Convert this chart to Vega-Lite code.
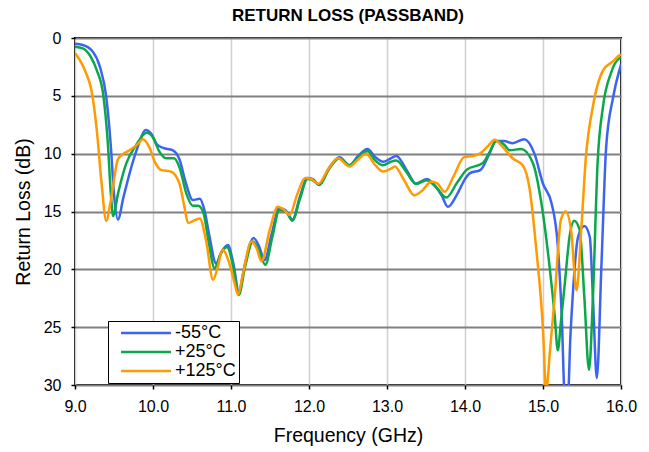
{
  "$schema": "https://vega.github.io/schema/vega-lite/v6.json",
  "autosize": "none",
  "width": 546,
  "height": 347,
  "padding": {"left": 75, "top": 38, "right": 28, "bottom": 67},
  "background": "white",
  "config": {
    "font": "Liberation Sans",
    "view": {"stroke": "black", "strokeWidth": 2},
    "axis": {"domain": false, "labelFont": "Liberation Sans", "titleFont": "Liberation Sans", "labelFontSize": 16, "titleFontSize": 19.5, "titleFontWeight": "normal", "labelColor": "black", "titleColor": "black", "tickColor": "black", "tickSize": 4, "tickWidth": 1.5, "labelFlush": false, "labelOverlap": false},
    "axisX": {"gridColor": "#d0d0d0", "gridWidth": 1.5},
    "axisY": {"gridColor": "#808080", "gridWidth": 2}
  },
  "title": {"text": "RETURN LOSS (PASSBAND)", "fontSize": 17, "fontWeight": "bold", "font": "Liberation Sans", "color": "black", "offset": 5, "anchor": "middle"},
  "datasets": {
    "s": [
      {"f": 9.0, "rl": 0.5, "t": "-55°C"},
      {"f": 9.1, "rl": 0.6, "t": "-55°C"},
      {"f": 9.23, "rl": 1.2, "t": "-55°C"},
      {"f": 9.32, "rl": 2.5, "t": "-55°C"},
      {"f": 9.40, "rl": 5.07, "t": "-55°C"},
      {"f": 9.46, "rl": 9.4, "t": "-55°C"},
      {"f": 9.50, "rl": 13.5, "t": "-55°C"},
      {"f": 9.55, "rl": 15.7, "t": "-55°C"},
      {"f": 9.62, "rl": 13.8, "t": "-55°C"},
      {"f": 9.70, "rl": 11.7, "t": "-55°C"},
      {"f": 9.80, "rl": 9.5, "t": "-55°C"},
      {"f": 9.91, "rl": 7.95, "t": "-55°C"},
      {"f": 9.98, "rl": 8.3, "t": "-55°C"},
      {"f": 10.05, "rl": 9.2, "t": "-55°C"},
      {"f": 10.13, "rl": 9.5, "t": "-55°C"},
      {"f": 10.25, "rl": 9.7, "t": "-55°C"},
      {"f": 10.34, "rl": 10.5, "t": "-55°C"},
      {"f": 10.42, "rl": 12.5, "t": "-55°C"},
      {"f": 10.51, "rl": 14.0, "t": "-55°C"},
      {"f": 10.60, "rl": 13.9, "t": "-55°C"},
      {"f": 10.66, "rl": 14.9, "t": "-55°C"},
      {"f": 10.72, "rl": 17.0, "t": "-55°C"},
      {"f": 10.81, "rl": 19.5, "t": "-55°C"},
      {"f": 10.88, "rl": 18.5, "t": "-55°C"},
      {"f": 10.96, "rl": 17.9, "t": "-55°C"},
      {"f": 11.03, "rl": 19.5, "t": "-55°C"},
      {"f": 11.10, "rl": 21.9, "t": "-55°C"},
      {"f": 11.18, "rl": 19.5, "t": "-55°C"},
      {"f": 11.29, "rl": 17.3, "t": "-55°C"},
      {"f": 11.36, "rl": 18.0, "t": "-55°C"},
      {"f": 11.43, "rl": 19.2, "t": "-55°C"},
      {"f": 11.52, "rl": 17.0, "t": "-55°C"},
      {"f": 11.62, "rl": 14.7, "t": "-55°C"},
      {"f": 11.70, "rl": 14.9, "t": "-55°C"},
      {"f": 11.79, "rl": 15.7, "t": "-55°C"},
      {"f": 11.88, "rl": 13.8, "t": "-55°C"},
      {"f": 11.98, "rl": 12.1, "t": "-55°C"},
      {"f": 12.05, "rl": 12.2, "t": "-55°C"},
      {"f": 12.13, "rl": 12.7, "t": "-55°C"},
      {"f": 12.26, "rl": 11.2, "t": "-55°C"},
      {"f": 12.39, "rl": 10.3, "t": "-55°C"},
      {"f": 12.52, "rl": 11.0, "t": "-55°C"},
      {"f": 12.63, "rl": 10.2, "t": "-55°C"},
      {"f": 12.75, "rl": 9.6, "t": "-55°C"},
      {"f": 12.85, "rl": 10.3, "t": "-55°C"},
      {"f": 12.95, "rl": 10.7, "t": "-55°C"},
      {"f": 13.05, "rl": 10.4, "t": "-55°C"},
      {"f": 13.12, "rl": 10.2, "t": "-55°C"},
      {"f": 13.25, "rl": 11.4, "t": "-55°C"},
      {"f": 13.37, "rl": 12.6, "t": "-55°C"},
      {"f": 13.51, "rl": 12.2, "t": "-55°C"},
      {"f": 13.63, "rl": 12.9, "t": "-55°C"},
      {"f": 13.70, "rl": 13.6, "t": "-55°C"},
      {"f": 13.78, "rl": 14.6, "t": "-55°C"},
      {"f": 13.90, "rl": 13.5, "t": "-55°C"},
      {"f": 14.0, "rl": 12.2, "t": "-55°C"},
      {"f": 14.06, "rl": 11.7, "t": "-55°C"},
      {"f": 14.2, "rl": 11.4, "t": "-55°C"},
      {"f": 14.30, "rl": 10.2, "t": "-55°C"},
      {"f": 14.40, "rl": 8.9, "t": "-55°C"},
      {"f": 14.50, "rl": 8.9, "t": "-55°C"},
      {"f": 14.61, "rl": 9.1, "t": "-55°C"},
      {"f": 14.76, "rl": 8.75, "t": "-55°C"},
      {"f": 14.89, "rl": 10.0, "t": "-55°C"},
      {"f": 15.0, "rl": 12.6, "t": "-55°C"},
      {"f": 15.11, "rl": 14.3, "t": "-55°C"},
      {"f": 15.19, "rl": 18.0, "t": "-55°C"},
      {"f": 15.24, "rl": 24.0, "t": "-55°C"},
      {"f": 15.28, "rl": 31.0, "t": "-55°C"},
      {"f": 15.32, "rl": 31.0, "t": "-55°C"},
      {"f": 15.35, "rl": 26.0, "t": "-55°C"},
      {"f": 15.38, "rl": 22.4, "t": "-55°C"},
      {"f": 15.45, "rl": 17.2, "t": "-55°C"},
      {"f": 15.53, "rl": 16.25, "t": "-55°C"},
      {"f": 15.60, "rl": 17.2, "t": "-55°C"},
      {"f": 15.64, "rl": 22.4, "t": "-55°C"},
      {"f": 15.69, "rl": 29.4, "t": "-55°C"},
      {"f": 15.75, "rl": 19.5, "t": "-55°C"},
      {"f": 15.81, "rl": 9.4, "t": "-55°C"},
      {"f": 15.90, "rl": 5.1, "t": "-55°C"},
      {"f": 16.0, "rl": 2.3, "t": "-55°C"},

      {"f": 9.0, "rl": 0.75, "t": "+25°C"},
      {"f": 9.1, "rl": 0.9, "t": "+25°C"},
      {"f": 9.2, "rl": 1.6, "t": "+25°C"},
      {"f": 9.28, "rl": 2.8, "t": "+25°C"},
      {"f": 9.36, "rl": 4.8, "t": "+25°C"},
      {"f": 9.42, "rl": 9.0, "t": "+25°C"},
      {"f": 9.46, "rl": 13.5, "t": "+25°C"},
      {"f": 9.49, "rl": 15.4, "t": "+25°C"},
      {"f": 9.55, "rl": 13.5, "t": "+25°C"},
      {"f": 9.66, "rl": 10.8, "t": "+25°C"},
      {"f": 9.78, "rl": 9.3, "t": "+25°C"},
      {"f": 9.92, "rl": 8.2, "t": "+25°C"},
      {"f": 10.0, "rl": 8.6, "t": "+25°C"},
      {"f": 10.08, "rl": 9.8, "t": "+25°C"},
      {"f": 10.17, "rl": 10.4, "t": "+25°C"},
      {"f": 10.27, "rl": 10.4, "t": "+25°C"},
      {"f": 10.34, "rl": 11.2, "t": "+25°C"},
      {"f": 10.43, "rl": 13.5, "t": "+25°C"},
      {"f": 10.51, "rl": 14.5, "t": "+25°C"},
      {"f": 10.58, "rl": 14.5, "t": "+25°C"},
      {"f": 10.65, "rl": 15.2, "t": "+25°C"},
      {"f": 10.71, "rl": 17.5, "t": "+25°C"},
      {"f": 10.79, "rl": 19.9, "t": "+25°C"},
      {"f": 10.87, "rl": 18.6, "t": "+25°C"},
      {"f": 10.95, "rl": 18.1, "t": "+25°C"},
      {"f": 11.03, "rl": 19.8, "t": "+25°C"},
      {"f": 11.10, "rl": 22.2, "t": "+25°C"},
      {"f": 11.18, "rl": 19.8, "t": "+25°C"},
      {"f": 11.28, "rl": 17.6, "t": "+25°C"},
      {"f": 11.36, "rl": 18.4, "t": "+25°C"},
      {"f": 11.44, "rl": 19.6, "t": "+25°C"},
      {"f": 11.53, "rl": 17.2, "t": "+25°C"},
      {"f": 11.62, "rl": 14.9, "t": "+25°C"},
      {"f": 11.70, "rl": 15.0, "t": "+25°C"},
      {"f": 11.79, "rl": 15.8, "t": "+25°C"},
      {"f": 11.88, "rl": 14.0, "t": "+25°C"},
      {"f": 11.98, "rl": 12.2, "t": "+25°C"},
      {"f": 12.05, "rl": 12.3, "t": "+25°C"},
      {"f": 12.13, "rl": 12.7, "t": "+25°C"},
      {"f": 12.26, "rl": 11.3, "t": "+25°C"},
      {"f": 12.39, "rl": 10.4, "t": "+25°C"},
      {"f": 12.52, "rl": 11.0, "t": "+25°C"},
      {"f": 12.63, "rl": 10.3, "t": "+25°C"},
      {"f": 12.75, "rl": 9.8, "t": "+25°C"},
      {"f": 12.85, "rl": 10.6, "t": "+25°C"},
      {"f": 12.95, "rl": 11.0, "t": "+25°C"},
      {"f": 13.05, "rl": 10.7, "t": "+25°C"},
      {"f": 13.12, "rl": 10.6, "t": "+25°C"},
      {"f": 13.25, "rl": 11.6, "t": "+25°C"},
      {"f": 13.37, "rl": 12.6, "t": "+25°C"},
      {"f": 13.51, "rl": 12.3, "t": "+25°C"},
      {"f": 13.63, "rl": 12.9, "t": "+25°C"},
      {"f": 13.76, "rl": 13.8, "t": "+25°C"},
      {"f": 13.90, "rl": 12.5, "t": "+25°C"},
      {"f": 14.02, "rl": 11.4, "t": "+25°C"},
      {"f": 14.23, "rl": 10.8, "t": "+25°C"},
      {"f": 14.32, "rl": 9.8, "t": "+25°C"},
      {"f": 14.40, "rl": 8.9, "t": "+25°C"},
      {"f": 14.50, "rl": 9.2, "t": "+25°C"},
      {"f": 14.57, "rl": 9.7, "t": "+25°C"},
      {"f": 14.72, "rl": 9.6, "t": "+25°C"},
      {"f": 14.87, "rl": 10.8, "t": "+25°C"},
      {"f": 14.98, "rl": 14.3, "t": "+25°C"},
      {"f": 15.08, "rl": 19.5, "t": "+25°C"},
      {"f": 15.15, "rl": 24.0, "t": "+25°C"},
      {"f": 15.19, "rl": 27.0, "t": "+25°C"},
      {"f": 15.23, "rl": 24.5, "t": "+25°C"},
      {"f": 15.28, "rl": 21.2, "t": "+25°C"},
      {"f": 15.34, "rl": 17.2, "t": "+25°C"},
      {"f": 15.40, "rl": 15.8, "t": "+25°C"},
      {"f": 15.47, "rl": 16.6, "t": "+25°C"},
      {"f": 15.53, "rl": 22.4, "t": "+25°C"},
      {"f": 15.59, "rl": 28.7, "t": "+25°C"},
      {"f": 15.64, "rl": 22.4, "t": "+25°C"},
      {"f": 15.70, "rl": 10.8, "t": "+25°C"},
      {"f": 15.77, "rl": 5.9, "t": "+25°C"},
      {"f": 15.87, "rl": 3.05, "t": "+25°C"},
      {"f": 15.98, "rl": 1.75, "t": "+25°C"},
      {"f": 16.0, "rl": 1.7, "t": "+25°C"},

      {"f": 9.0, "rl": 1.3, "t": "+125°C"},
      {"f": 9.07, "rl": 2.0, "t": "+125°C"},
      {"f": 9.14, "rl": 3.0, "t": "+125°C"},
      {"f": 9.21, "rl": 4.5, "t": "+125°C"},
      {"f": 9.28, "rl": 8.0, "t": "+125°C"},
      {"f": 9.34, "rl": 12.5, "t": "+125°C"},
      {"f": 9.40, "rl": 15.8, "t": "+125°C"},
      {"f": 9.46, "rl": 14.0, "t": "+125°C"},
      {"f": 9.55, "rl": 10.5, "t": "+125°C"},
      {"f": 9.62, "rl": 10.0, "t": "+125°C"},
      {"f": 9.70, "rl": 9.7, "t": "+125°C"},
      {"f": 9.80, "rl": 9.2, "t": "+125°C"},
      {"f": 9.87, "rl": 8.75, "t": "+125°C"},
      {"f": 9.95, "rl": 9.4, "t": "+125°C"},
      {"f": 10.03, "rl": 10.8, "t": "+125°C"},
      {"f": 10.10, "rl": 11.4, "t": "+125°C"},
      {"f": 10.23, "rl": 11.55, "t": "+125°C"},
      {"f": 10.30, "rl": 12.0, "t": "+125°C"},
      {"f": 10.34, "rl": 12.6, "t": "+125°C"},
      {"f": 10.40, "rl": 14.5, "t": "+125°C"},
      {"f": 10.45, "rl": 16.0, "t": "+125°C"},
      {"f": 10.52, "rl": 15.8, "t": "+125°C"},
      {"f": 10.60, "rl": 15.6, "t": "+125°C"},
      {"f": 10.68, "rl": 17.5, "t": "+125°C"},
      {"f": 10.77, "rl": 20.9, "t": "+125°C"},
      {"f": 10.83, "rl": 19.8, "t": "+125°C"},
      {"f": 10.89, "rl": 18.3, "t": "+125°C"},
      {"f": 10.98, "rl": 19.5, "t": "+125°C"},
      {"f": 11.05, "rl": 21.3, "t": "+125°C"},
      {"f": 11.09, "rl": 22.2, "t": "+125°C"},
      {"f": 11.15, "rl": 20.5, "t": "+125°C"},
      {"f": 11.26, "rl": 17.6, "t": "+125°C"},
      {"f": 11.33, "rl": 18.2, "t": "+125°C"},
      {"f": 11.39, "rl": 19.3, "t": "+125°C"},
      {"f": 11.50, "rl": 16.5, "t": "+125°C"},
      {"f": 11.60, "rl": 14.6, "t": "+125°C"},
      {"f": 11.67, "rl": 14.8, "t": "+125°C"},
      {"f": 11.75, "rl": 15.3, "t": "+125°C"},
      {"f": 11.85, "rl": 13.5, "t": "+125°C"},
      {"f": 11.95, "rl": 12.1, "t": "+125°C"},
      {"f": 12.03, "rl": 12.2, "t": "+125°C"},
      {"f": 12.12, "rl": 12.6, "t": "+125°C"},
      {"f": 12.25, "rl": 11.3, "t": "+125°C"},
      {"f": 12.37, "rl": 10.4, "t": "+125°C"},
      {"f": 12.52, "rl": 11.1, "t": "+125°C"},
      {"f": 12.63, "rl": 10.5, "t": "+125°C"},
      {"f": 12.73, "rl": 10.0, "t": "+125°C"},
      {"f": 12.85, "rl": 11.0, "t": "+125°C"},
      {"f": 12.95, "rl": 11.55, "t": "+125°C"},
      {"f": 13.05, "rl": 11.3, "t": "+125°C"},
      {"f": 13.10, "rl": 11.1, "t": "+125°C"},
      {"f": 13.22, "rl": 12.3, "t": "+125°C"},
      {"f": 13.35, "rl": 13.6, "t": "+125°C"},
      {"f": 13.45, "rl": 13.2, "t": "+125°C"},
      {"f": 13.57, "rl": 12.4, "t": "+125°C"},
      {"f": 13.65, "rl": 12.6, "t": "+125°C"},
      {"f": 13.74, "rl": 13.3, "t": "+125°C"},
      {"f": 13.85, "rl": 12.0, "t": "+125°C"},
      {"f": 13.99, "rl": 10.3, "t": "+125°C"},
      {"f": 14.10, "rl": 10.2, "t": "+125°C"},
      {"f": 14.19, "rl": 10.0, "t": "+125°C"},
      {"f": 14.30, "rl": 9.3, "t": "+125°C"},
      {"f": 14.38, "rl": 8.8, "t": "+125°C"},
      {"f": 14.48, "rl": 9.4, "t": "+125°C"},
      {"f": 14.61, "rl": 10.4, "t": "+125°C"},
      {"f": 14.74, "rl": 11.0, "t": "+125°C"},
      {"f": 14.83, "rl": 13.1, "t": "+125°C"},
      {"f": 14.91, "rl": 18.0, "t": "+125°C"},
      {"f": 15.0, "rl": 25.2, "t": "+125°C"},
      {"f": 15.04, "rl": 30.5, "t": "+125°C"},
      {"f": 15.09, "rl": 27.0, "t": "+125°C"},
      {"f": 15.15, "rl": 22.4, "t": "+125°C"},
      {"f": 15.23, "rl": 15.7, "t": "+125°C"},
      {"f": 15.29, "rl": 15.0, "t": "+125°C"},
      {"f": 15.36, "rl": 16.6, "t": "+125°C"},
      {"f": 15.43, "rl": 21.8, "t": "+125°C"},
      {"f": 15.49, "rl": 16.6, "t": "+125°C"},
      {"f": 15.55, "rl": 10.3, "t": "+125°C"},
      {"f": 15.64, "rl": 5.9, "t": "+125°C"},
      {"f": 15.77, "rl": 2.8, "t": "+125°C"},
      {"f": 15.90, "rl": 2.0, "t": "+125°C"},
      {"f": 15.98, "rl": 1.5, "t": "+125°C"},
      {"f": 16.0, "rl": 1.45, "t": "+125°C"}
    ]
  },
  "data": {"name": "s"},
  "mark": {"type": "line", "interpolate": "monotone", "strokeWidth": 2.5, "clip": true},
  "encoding": {
    "x": {"field": "f", "type": "quantitative", "scale": {"domain": [9, 16], "nice": false, "zero": false}, "axis": {"values": [9, 10, 11, 12, 13, 14, 15, 16], "format": ".1f", "title": "Frequency (GHz)", "labelPadding": 9, "titlePadding": 12}},
    "y": {"field": "rl", "type": "quantitative", "scale": {"domain": [0, 30], "reverse": true, "nice": false}, "axis": {"values": [0, 5, 10, 15, 20, 25, 30], "title": "Return Loss (dB)", "labelPadding": 10, "titlePadding": 10}},
    "color": {"field": "t", "type": "nominal", "sort": null, "scale": {"domain": ["-55°C", "+25°C", "+125°C"], "range": ["#3c64f0", "#0aa84a", "#ff9a00"]},
      "legend": {"title": null, "orient": "none", "legendX": 33, "legendY": 283, "symbolType": "M-4,0H4", "symbolSize": 156, "symbolStrokeWidth": 2.5, "symbolOffset": 26, "labelFontSize": 18, "labelFont": "Liberation Sans", "labelColor": "black", "labelOffset": 20, "strokeColor": "black", "fillColor": "white", "padding": 3, "rowPadding": 1, "offset": 0}}
  }
}
